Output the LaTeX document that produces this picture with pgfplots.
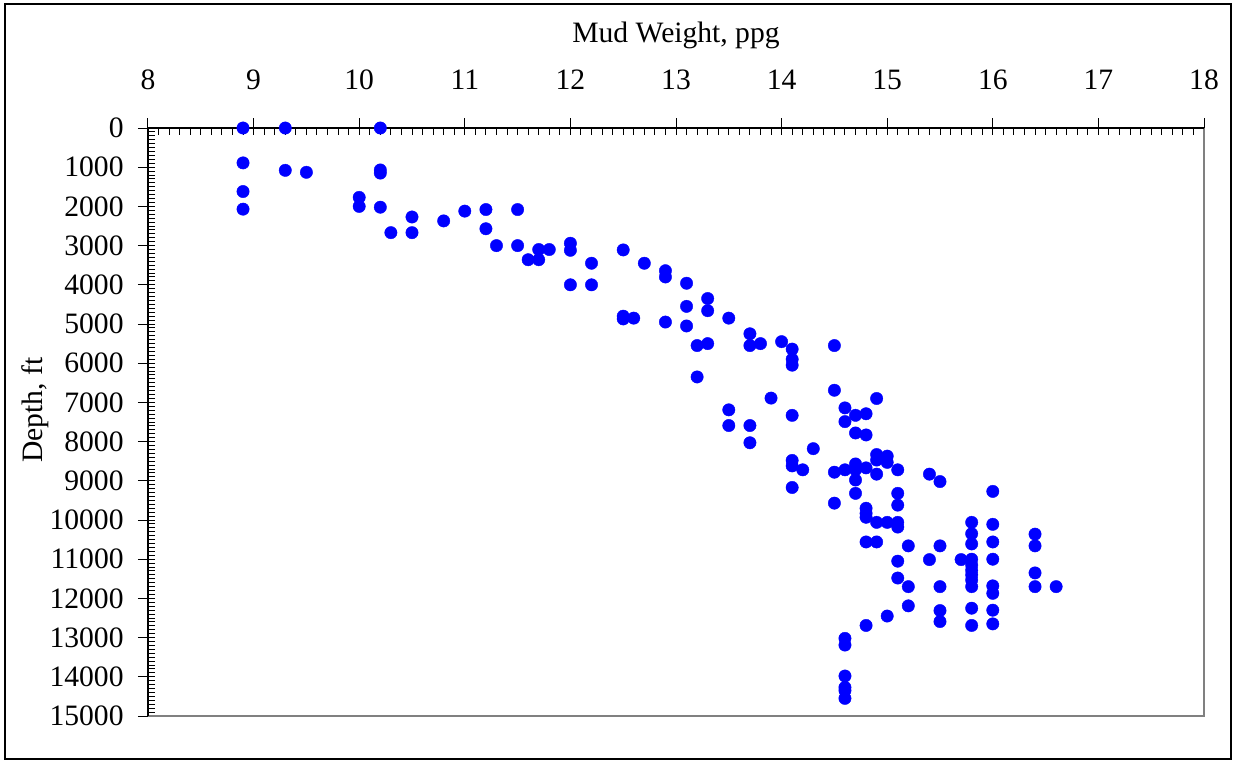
\documentclass[border=0pt]{standalone}
\usepackage{pgfplots}
\usepackage{pgfplotstable}
\pgfplotsset{compat=1.18}
\usepackage{fontspec}
\setmainfont{Liberation Serif}
\definecolor{ptblue}{RGB}{0,0,255}
\definecolor{areaborder}{RGB}{128,128,128}

% mud weight (ppg) against depth (ft)
\pgfplotstableread{
mw depth
8.9 0
9.3 0
10.2 0
8.9 890
8.9 1620
8.9 2070
9.3 1080
9.5 1130
10.2 1070
10.2 1150
10.0 1770
10.0 2000
10.2 2020
10.3 2670
10.5 2270
10.5 2670
10.8 2370
11.0 2120
11.2 2080
11.2 2570
11.3 3000
11.5 2080
11.5 3000
11.6 3360
11.7 3100
11.7 3360
11.8 3100
12.0 2940
12.0 3120
12.0 4000
12.2 3450
12.2 4000
12.5 3110
12.5 4800
12.5 4870
12.6 4850
12.7 3450
12.9 3640
12.9 3800
12.9 4950
13.1 3960
13.1 4550
13.1 5050
13.2 5550
13.2 6350
13.3 4350
13.3 4660
13.3 5500
13.5 4850
13.5 7190
13.5 7590
13.7 5250
13.7 5550
13.8 5500
13.7 7590
13.7 8030
13.9 6890
14.0 5450
14.1 5640
14.1 5900
14.1 6050
14.1 7330
14.3 8180
14.1 8480
14.1 8620
14.2 8720
14.1 9170
14.5 5550
14.5 6690
14.5 8780
14.5 9570
14.6 7140
14.6 7490
14.6 8720
14.7 7330
14.8 7290
14.7 7780
14.8 7830
14.7 8570
14.7 8720
14.7 8980
14.8 8670
14.9 6900
14.9 8330
14.9 8470
15.0 8370
15.0 8530
14.9 8830
15.1 8720
14.7 9320
14.8 9700
14.8 9830
14.8 9930
15.1 9320
15.1 9620
14.9 10060
15.0 10060
15.1 10060
15.1 10180
15.4 8830
15.5 9020
16.0 9270
15.8 10060
15.8 10350
15.8 10610
16.0 10110
16.0 10560
16.4 10360
16.4 10660
14.8 10560
14.9 10560
15.2 10660
15.5 10660
15.4 11010
15.7 11010
15.8 11000
15.8 11150
15.8 11280
15.8 11400
15.8 11530
15.8 11700
16.0 11000
15.1 11050
15.1 11480
16.4 11350
16.4 11700
16.6 11700
15.2 11700
15.5 11700
16.0 11680
16.0 11870
15.2 12190
15.5 12310
15.5 12590
15.8 12250
15.8 12690
16.0 12300
16.0 12650
15.0 12450
14.8 12690
14.6 13020
14.6 13190
14.6 13980
14.6 14270
14.6 14350
14.6 14550
}\mudtable

\newcommand{\chartfont}{\fontsize{14.8pt}{17pt}\selectfont}

\begin{document}
\begin{tikzpicture}
\useasboundingbox (-74pt,-23pt) rectangle (542.5pt,358pt);
\draw[line width=0.7pt] (-71.5pt,-21.5pt) rectangle (541.5pt,356pt);

% fine inward ticks every 0.1 ppg and every 100 ft
\begin{axis}[
  scale only axis, width=528pt, height=294pt,
  xmin=8, xmax=18, ymin=0, ymax=15000, y dir=reverse,
  axis line style={draw=none},
  xtick distance=0.1, ytick distance=100,
  xticklabels={}, yticklabels={},
  scaled x ticks=false, scaled y ticks=false,
  xtick pos=right, ytick pos=left,
  tick align=inside, major tick length=3.5pt,
  tick style={black, line width=0.5pt},
]
\end{axis}

\begin{axis}[
  scale only axis, width=528pt, height=294pt,
  xmin=8, xmax=18, ymin=0, ymax=15000, y dir=reverse,
  axis line style={draw=none},
  xtick={8,...,18}, ytick={0,1000,...,15000},
  scaled x ticks=false, scaled y ticks=false,
  xtick pos=right, ytick pos=left,
  tick align=outside, minor tick num=0, major tick length=5pt,
  tick style={black, line width=0.5pt},
  /pgf/number format/assume math mode=true,
  /pgf/number format/1000 sep={},
  ticklabel style={font=\chartfont},
  xticklabel style={anchor=south, inner sep=0pt, yshift=14pt},
  yticklabel style={anchor=east, inner sep=0pt, xshift=-7pt},
  clip=false,
]
% plot-area border (grey) and the two axis lines (black)
\draw[areaborder, line width=0.8pt] (rel axis cs:0,0) -- (rel axis cs:1,0) -- (rel axis cs:1,1);
\draw[black, line width=0.6pt] (rel axis cs:0,0) -- (rel axis cs:0,1) -- (rel axis cs:1,1);
\addplot[only marks, mark=*, mark size=3.1pt,
  mark options={fill=ptblue, draw=ptblue, line width=0.2pt}]
  table[x=mw, y=depth] {\mudtable};
\node[anchor=base, font=\chartfont, yshift=43pt] at (rel axis cs:0.5,1) {Mud Weight, ppg};
\path (rel axis cs:0,0.52) ++(-56.5pt,0pt) node[rotate=90, font=\chartfont] {Depth, ft};
\end{axis}
\end{tikzpicture}
\end{document}
